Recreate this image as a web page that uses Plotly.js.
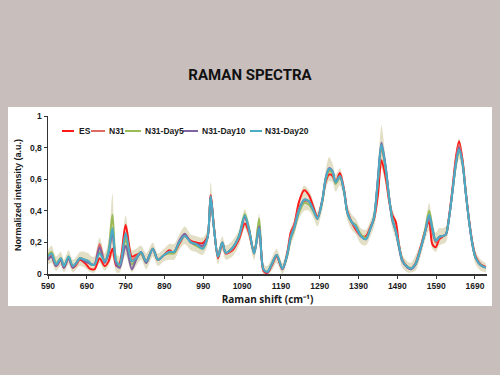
<!DOCTYPE html>
<html>
<head>
<meta charset="utf-8">
<script src="https://cdn.plot.ly/plotly-3.0.1.min.js"></script>
<style>html,body{margin:0;padding:0;background:#c8bebc;}#chart{width:500px;height:375px;}</style>
</head>
<body>
<div id="chart"></div>
<script>
// Raman shift grid (cm-1)
var shift = [590,599,611,623,631,643,654,663,672,685,695,702,710,723,736,746,756,766,775,790,806,817,830,843,860,873,889,902,915,928,942,958,971,988,1001,1009,1018,1028,1039,1048,1065,1082,1097,1108,1121,1134,1145,1155,1166,1179,1194,1207,1215,1224,1237,1250,1262,1275,1284,1297,1305,1314,1323,1331,1342,1353,1361,1372,1383,1396,1409,1421,1430,1440,1449,1460,1469,1477,1486,1494,1503,1516,1525,1537,1550,1561,1572,1580,1589,1598,1606,1615,1623,1632,1641,1649,1658,1666,1675,1684,1692,1705,1718];

var seriesNames = ['ES','N31','N31-Day5','N31-Day10','N31-Day20'];

var ES = [
0.10,0.11,0.05,0.09,0.04,0.10,0.04,0.06,0.09,0.07,
0.04,0.03,0.03,0.10,0.05,0.08,0.16,0.05,0.07,0.31,
0.11,0.12,0.13,0.08,0.16,0.09,0.12,0.15,0.135,0.19,
0.24,0.21,0.20,0.195,0.24,0.50,0.29,0.10,0.19,0.13,
0.15,0.22,0.32,0.26,0.14,0.28,0.02,0.005,0.05,0.11,
0.03,0.14,0.26,0.31,0.46,0.53,0.50,0.415,0.36,0.47,
0.58,0.63,0.62,0.58,0.64,0.53,0.40,0.33,0.28,0.24,
0.24,0.30,0.35,0.50,0.72,0.61,0.46,0.375,0.33,0.19,
0.09,0.045,0.035,0.07,0.17,0.27,0.33,0.19,0.17,0.22,
0.235,0.25,0.36,0.54,0.74,0.84,0.72,0.53,0.34,0.19,
0.11,0.06,0.045];

var N31 = [
0.10,0.12,0.06,0.10,0.05,0.10,0.05,0.07,0.10,0.09,
0.07,0.06,0.06,0.19,0.08,0.13,0.28,0.07,0.06,0.24,
0.09,0.11,0.14,0.08,0.16,0.09,0.12,0.14,0.14,0.20,
0.25,0.20,0.19,0.17,0.23,0.50,0.28,0.11,0.20,0.13,
0.16,0.23,0.36,0.27,0.13,0.30,0.03,0.01,0.06,0.12,
0.035,0.13,0.24,0.30,0.42,0.46,0.46,0.40,0.35,0.47,
0.60,0.66,0.64,0.58,0.62,0.52,0.39,0.33,0.29,0.24,
0.23,0.29,0.35,0.58,0.80,0.66,0.48,0.35,0.28,0.18,
0.085,0.045,0.035,0.065,0.16,0.26,0.36,0.27,0.20,0.23,
0.24,0.25,0.35,0.53,0.72,0.82,0.71,0.52,0.33,0.18,
0.10,0.055,0.04];

var N31_Day5 = [
0.12,0.14,0.07,0.10,0.05,0.11,0.05,0.07,0.10,0.09,
0.08,0.06,0.06,0.14,0.08,0.15,0.375,0.08,0.05,0.22,
0.06,0.10,0.13,0.07,0.16,0.09,0.12,0.13,0.13,0.20,
0.24,0.20,0.18,0.16,0.23,0.48,0.28,0.11,0.20,0.135,
0.165,0.24,0.38,0.29,0.13,0.35,0.03,0.015,0.06,0.12,
0.035,0.12,0.22,0.28,0.39,0.45,0.44,0.39,0.35,0.46,
0.59,0.65,0.64,0.57,0.61,0.52,0.39,0.33,0.31,0.25,
0.23,0.29,0.36,0.59,0.81,0.67,0.48,0.35,0.27,0.18,
0.085,0.045,0.035,0.065,0.16,0.27,0.40,0.30,0.21,0.235,
0.24,0.25,0.35,0.52,0.69,0.78,0.70,0.52,0.33,0.18,
0.10,0.055,0.04];

var N31_Day10 = [
0.09,0.11,0.05,0.09,0.04,0.10,0.04,0.07,0.10,0.08,
0.07,0.06,0.06,0.17,0.07,0.13,0.27,0.06,0.04,0.18,
0.03,0.09,0.14,0.07,0.16,0.09,0.12,0.14,0.14,0.21,
0.255,0.20,0.19,0.18,0.23,0.49,0.28,0.11,0.20,0.135,
0.165,0.24,0.36,0.28,0.13,0.30,0.03,0.01,0.06,0.12,
0.03,0.13,0.23,0.29,0.41,0.47,0.46,0.40,0.35,0.47,
0.60,0.67,0.65,0.58,0.62,0.52,0.39,0.33,0.30,0.24,
0.22,0.29,0.36,0.61,0.83,0.68,0.48,0.34,0.27,0.17,
0.08,0.04,0.03,0.06,0.16,0.26,0.37,0.29,0.21,0.235,
0.24,0.25,0.35,0.52,0.70,0.80,0.70,0.52,0.33,0.18,
0.10,0.055,0.04];

var N31_Day20 = [
0.11,0.13,0.06,0.10,0.05,0.11,0.05,0.07,0.10,0.09,
0.08,0.06,0.06,0.13,0.08,0.14,0.29,0.08,0.06,0.26,
0.08,0.10,0.14,0.08,0.16,0.09,0.12,0.14,0.14,0.20,
0.24,0.20,0.19,0.16,0.23,0.49,0.28,0.11,0.20,0.135,
0.165,0.24,0.37,0.28,0.13,0.29,0.03,0.015,0.06,0.12,
0.035,0.13,0.23,0.29,0.405,0.47,0.46,0.395,0.35,0.47,
0.60,0.665,0.65,0.58,0.62,0.52,0.39,0.33,0.30,0.24,
0.22,0.29,0.36,0.60,0.82,0.67,0.48,0.35,0.27,0.18,
0.085,0.045,0.035,0.065,0.16,0.26,0.375,0.29,0.21,0.235,
0.24,0.25,0.35,0.52,0.70,0.79,0.70,0.52,0.33,0.18,
0.10,0.055,0.04];

// shaded deviation band
var bandHigh = [
0.15,0.18,0.11,0.14,0.09,0.15,0.09,0.11,0.14,0.14,
0.13,0.11,0.11,0.23,0.13,0.21,0.51,0.13,0.11,0.37,
0.15,0.16,0.18,0.13,0.20,0.13,0.16,0.19,0.19,0.25,
0.30,0.25,0.24,0.23,0.28,0.58,0.33,0.15,0.24,0.18,
0.21,0.28,0.41,0.32,0.17,0.38,0.06,0.05,0.10,0.16,
0.07,0.18,0.29,0.34,0.48,0.56,0.53,0.45,0.39,0.51,
0.65,0.74,0.70,0.63,0.67,0.57,0.44,0.38,0.35,0.29,
0.28,0.34,0.41,0.67,0.94,0.73,0.53,0.41,0.35,0.23,
0.12,0.08,0.07,0.12,0.20,0.31,0.45,0.34,0.26,0.29,
0.29,0.30,0.40,0.57,0.77,0.86,0.76,0.57,0.38,0.22,
0.14,0.09,0.07];

var bandLow = [
0.06,0.07,0.02,0.05,0.01,0.06,0.01,0.03,0.05,0.04,
0.02,0.01,0.01,0.07,0.02,0.05,0.11,0.01,0.01,0.12,
0.01,0.05,0.09,0.03,0.11,0.05,0.08,0.09,0.09,0.15,
0.19,0.15,0.14,0.12,0.18,0.41,0.23,0.06,0.15,0.09,
0.11,0.18,0.29,0.22,0.09,0.23,0.0,0.0,0.02,0.07,
0.0,0.09,0.18,0.24,0.35,0.40,0.40,0.35,0.30,0.41,
0.53,0.59,0.58,0.52,0.56,0.47,0.34,0.28,0.25,0.19,
0.18,0.24,0.30,0.45,0.67,0.56,0.41,0.29,0.22,0.13,
0.04,0.01,0.01,0.02,0.11,0.21,0.28,0.16,0.14,0.18,
0.19,0.20,0.30,0.47,0.65,0.73,0.64,0.47,0.28,0.14,
0.06,0.02,0.01];

var xTickVals = [590,690,790,890,990,1090,1190,1290,1390,1490,1590,1690];
var yTickVals = [0,0.2,0.4,0.6,0.8,1];
var yTickText = ['0','0,2','0,4','0,6','0,8','1'];

var colors = ['#ff1a1a','#e06a64','#9bbb59','#8064a2','#4bacc6'];
var seriesData = [ES, N31, N31_Day5, N31_Day10, N31_Day20];

var traces = [];
traces.push({x: shift, y: bandLow, type: 'scatter', mode: 'lines', line: {width: 0, shape: 'spline', smoothing: 0.8}, showlegend: false, hoverinfo: 'skip'});
traces.push({x: shift, y: bandHigh, type: 'scatter', mode: 'lines', fill: 'tonexty', fillcolor: 'rgba(212,206,168,0.65)', line: {width: 0, shape: 'spline', smoothing: 0.8}, showlegend: false, hoverinfo: 'skip'});
for (var i = 0; i < seriesNames.length; i++) {
  traces.push({x: shift, y: seriesData[i], name: seriesNames[i], type: 'scatter', mode: 'lines',
    line: {color: colors[i], width: 2, shape: 'spline', smoothing: 0.8}, showlegend: false});
}

// plot area geometry in px (for legend placement helpers)
var L = 48, R = 13, T = 116, B = 101, W = 500 - L - R, H = 375 - T - B;
function px2x(p) { return (p - L) / W; }
function py2y(p) { return (375 - B - p) / H; }

// custom compact legend (line sample + label)
var legendItems = [
  {line: [62, 74], text: 77},
  {line: [91, 105], text: 107},
  {line: [125, 141], text: 143},
  {line: [183, 198], text: 200},
  {line: [250, 262], text: 263}
];
var shapes = [{type: 'rect', xref: 'paper', yref: 'paper', x0: px2x(8), x1: px2x(492), y0: py2y(306), y1: py2y(107), fillcolor: '#ffffff', line: {width: 0}, layer: 'below'}];
var annotations = [];
var legY = py2y(131);
for (var j = 0; j < legendItems.length; j++) {
  shapes.push({type: 'line', xref: 'paper', yref: 'paper', x0: px2x(legendItems[j].line[0]), x1: px2x(legendItems[j].line[1]), y0: legY, y1: legY, line: {color: colors[j], width: 2}});
  annotations.push({xref: 'paper', yref: 'paper', x: px2x(legendItems[j].text), y: legY, xanchor: 'left', yanchor: 'middle', showarrow: false, text: seriesNames[j], font: {family: 'Liberation Sans, Arial, sans-serif', size: 8.5, color: '#1a1a1a', weight: 'bold'}});
}

var layout = {
  width: 500, height: 375,
  paper_bgcolor: '#c8bebc', plot_bgcolor: '#ffffff',
  margin: {l: L, r: R, t: T, b: B, pad: 0},
  title: {text: 'RAMAN SPECTRA', font: {family: 'Roboto, sans-serif', size: 15, color: '#111111', weight: 'bold'}, x: 0.5, xref: 'container', xanchor: 'center', y: 0.8, yref: 'container', yanchor: 'middle'},
  xaxis: {range: [590, 1721], tickvals: xTickVals, showgrid: false, zeroline: false, showline: true, linecolor: '#333333', linewidth: 1.5,
    ticks: 'outside', ticklen: 3, tickcolor: '#333333', tickfont: {family: 'Liberation Sans, Arial, sans-serif', size: 8.5, color: '#1a1a1a', weight: 'bold'},
    title: {text: 'Raman shift (cm\u207B\u00B9)', font: {family: 'Open Sans, sans-serif', size: 10, color: '#1a1a1a', weight: 'bold'}, standoff: 6}, automargin: false},
  yaxis: {range: [0, 1], tickvals: yTickVals, ticktext: yTickText, showgrid: false, zeroline: false, showline: true, linecolor: '#333333', linewidth: 1.5,
    ticks: 'outside', ticklen: 3, tickcolor: '#333333', tickfont: {family: 'Liberation Sans, Arial, sans-serif', size: 8.5, color: '#1a1a1a', weight: 'bold'},
    title: {text: 'Normalized intensity (a.u.)', font: {family: 'Liberation Sans, Arial, sans-serif', size: 9, color: '#1a1a1a', weight: 'bold'}, standoff: 7}, automargin: false},
  showlegend: false,
  shapes: shapes,
  annotations: annotations
};

Plotly.newPlot('chart', traces, layout, {staticPlot: true, displayModeBar: false});
</script>
</body>
</html>
